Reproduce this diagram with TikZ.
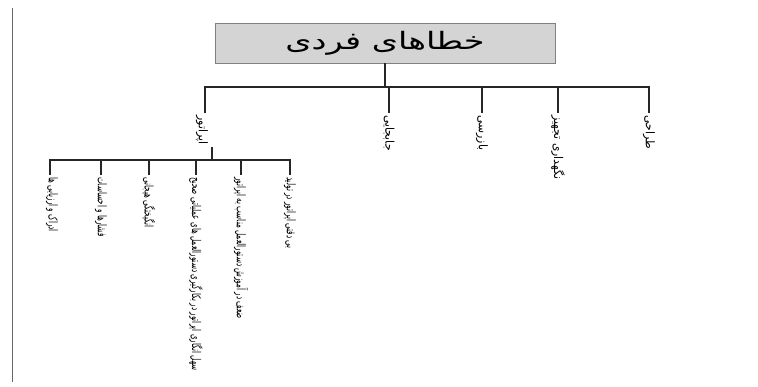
\documentclass[tikz,border=0pt]{standalone}
\usepackage{fontspec}
\TeXXeTstate=1
% narrow and wide cuts of the same Arabic-script face
\newfontfamily\fatitle[Script=Arabic,FakeStretch=1.4]{DejaVu Sans}
\newfontfamily\fabranch[Script=Arabic,FakeStretch=0.9]{DejaVu Sans}
\newfontfamily\faleaf[Script=Arabic,FakeStretch=0.6]{DejaVu Sans}
\newcommand{\rtl}[1]{\beginR #1\endR}
\begin{document}
\begin{tikzpicture}[x=1pt,y=-1pt,
  titlebox/.style={draw=black!50, line width=0.8pt, fill=black!17, minimum width=340pt, minimum height=40pt, inner sep=0pt, font=\fatitle\fontsize{24}{28}\selectfont},
  branch/.style={rotate=-90, anchor=west, inner sep=2.5pt, font=\fabranch\fontsize{12}{14}\selectfont},
  leaf/.style={rotate=-90, anchor=west, inner sep=2pt, font=\faleaf\fontsize{12}{14}\selectfont},
  tree/.style={draw=black!85, line width=1.1pt}]
\useasboundingbox (0,0) rectangle (758,387);
% margin rule on the left
\draw[black!60, line width=0.8pt] (12,8) -- (12,382);

% root
\node[titlebox] (root) at (385,43) {\rtl{خطاهای فردی}};
\coordinate (bar) at (0,87);

% first level
\node[branch] (op)  at (202,113) {\rtl{اپراتور}};
\node[branch] (jab) at (389,113) {\rtl{جابجایی}};
\node[branch] (baz) at (482,113) {\rtl{بازرسی}};
\node[branch] (neg) at (558,113) {\rtl{نگهداری تجهیز}};
\node[branch] (tar) at (649,113) {\rtl{طراحی}};

\draw[tree] (root.south) -- (root.south |- bar);
\coordinate (opup) at (205,0);
\draw[tree] (opup |- op.west) -- (opup |- bar) -- (tar.west |- bar) -- (tar.west);
\draw[tree] (jab.west) -- (jab.west |- bar);
\draw[tree] (baz.west) -- (baz.west |- bar);
\draw[tree] (neg.west) -- (neg.west |- bar);

% second level under the operator
\coordinate (sub) at (0,160);
\node[leaf] (s1) at (52,175)  {\rtl{ادراک و ارزیابی ها}};
\node[leaf] (s2) at (101,175) {\rtl{فشارها و احساسات}};
\node[leaf] (s3) at (149,175) {\rtl{انگیختگی هیجانی}};
\node[leaf] (s4) at (196,175) {\rtl{سهل انگاری اپراتور در بکارگیری دستورالعمل های عملیاتی صحیح}};
\node[leaf] (s5) at (241,175) {\rtl{ضعف در آموزش دستورالعمل مناسب به اپراتور}};
\node[leaf] (s6) at (290,175) {\rtl{بی دقتی اپراتور در تولید}};

\coordinate (opdown) at (212,0);
\draw[tree] (opdown |- op.east) -- (opdown |- sub);
\coordinate (s1x) at (50,0);
\draw[tree] (s1x |- s1.west) -- (s1x |- sub) -- (s6.west |- sub) -- (s6.west);
\foreach \n in {s2,s3,s4,s5} \draw[tree] (\n.west) -- (\n.west |- sub);
\end{tikzpicture}
\end{document}
